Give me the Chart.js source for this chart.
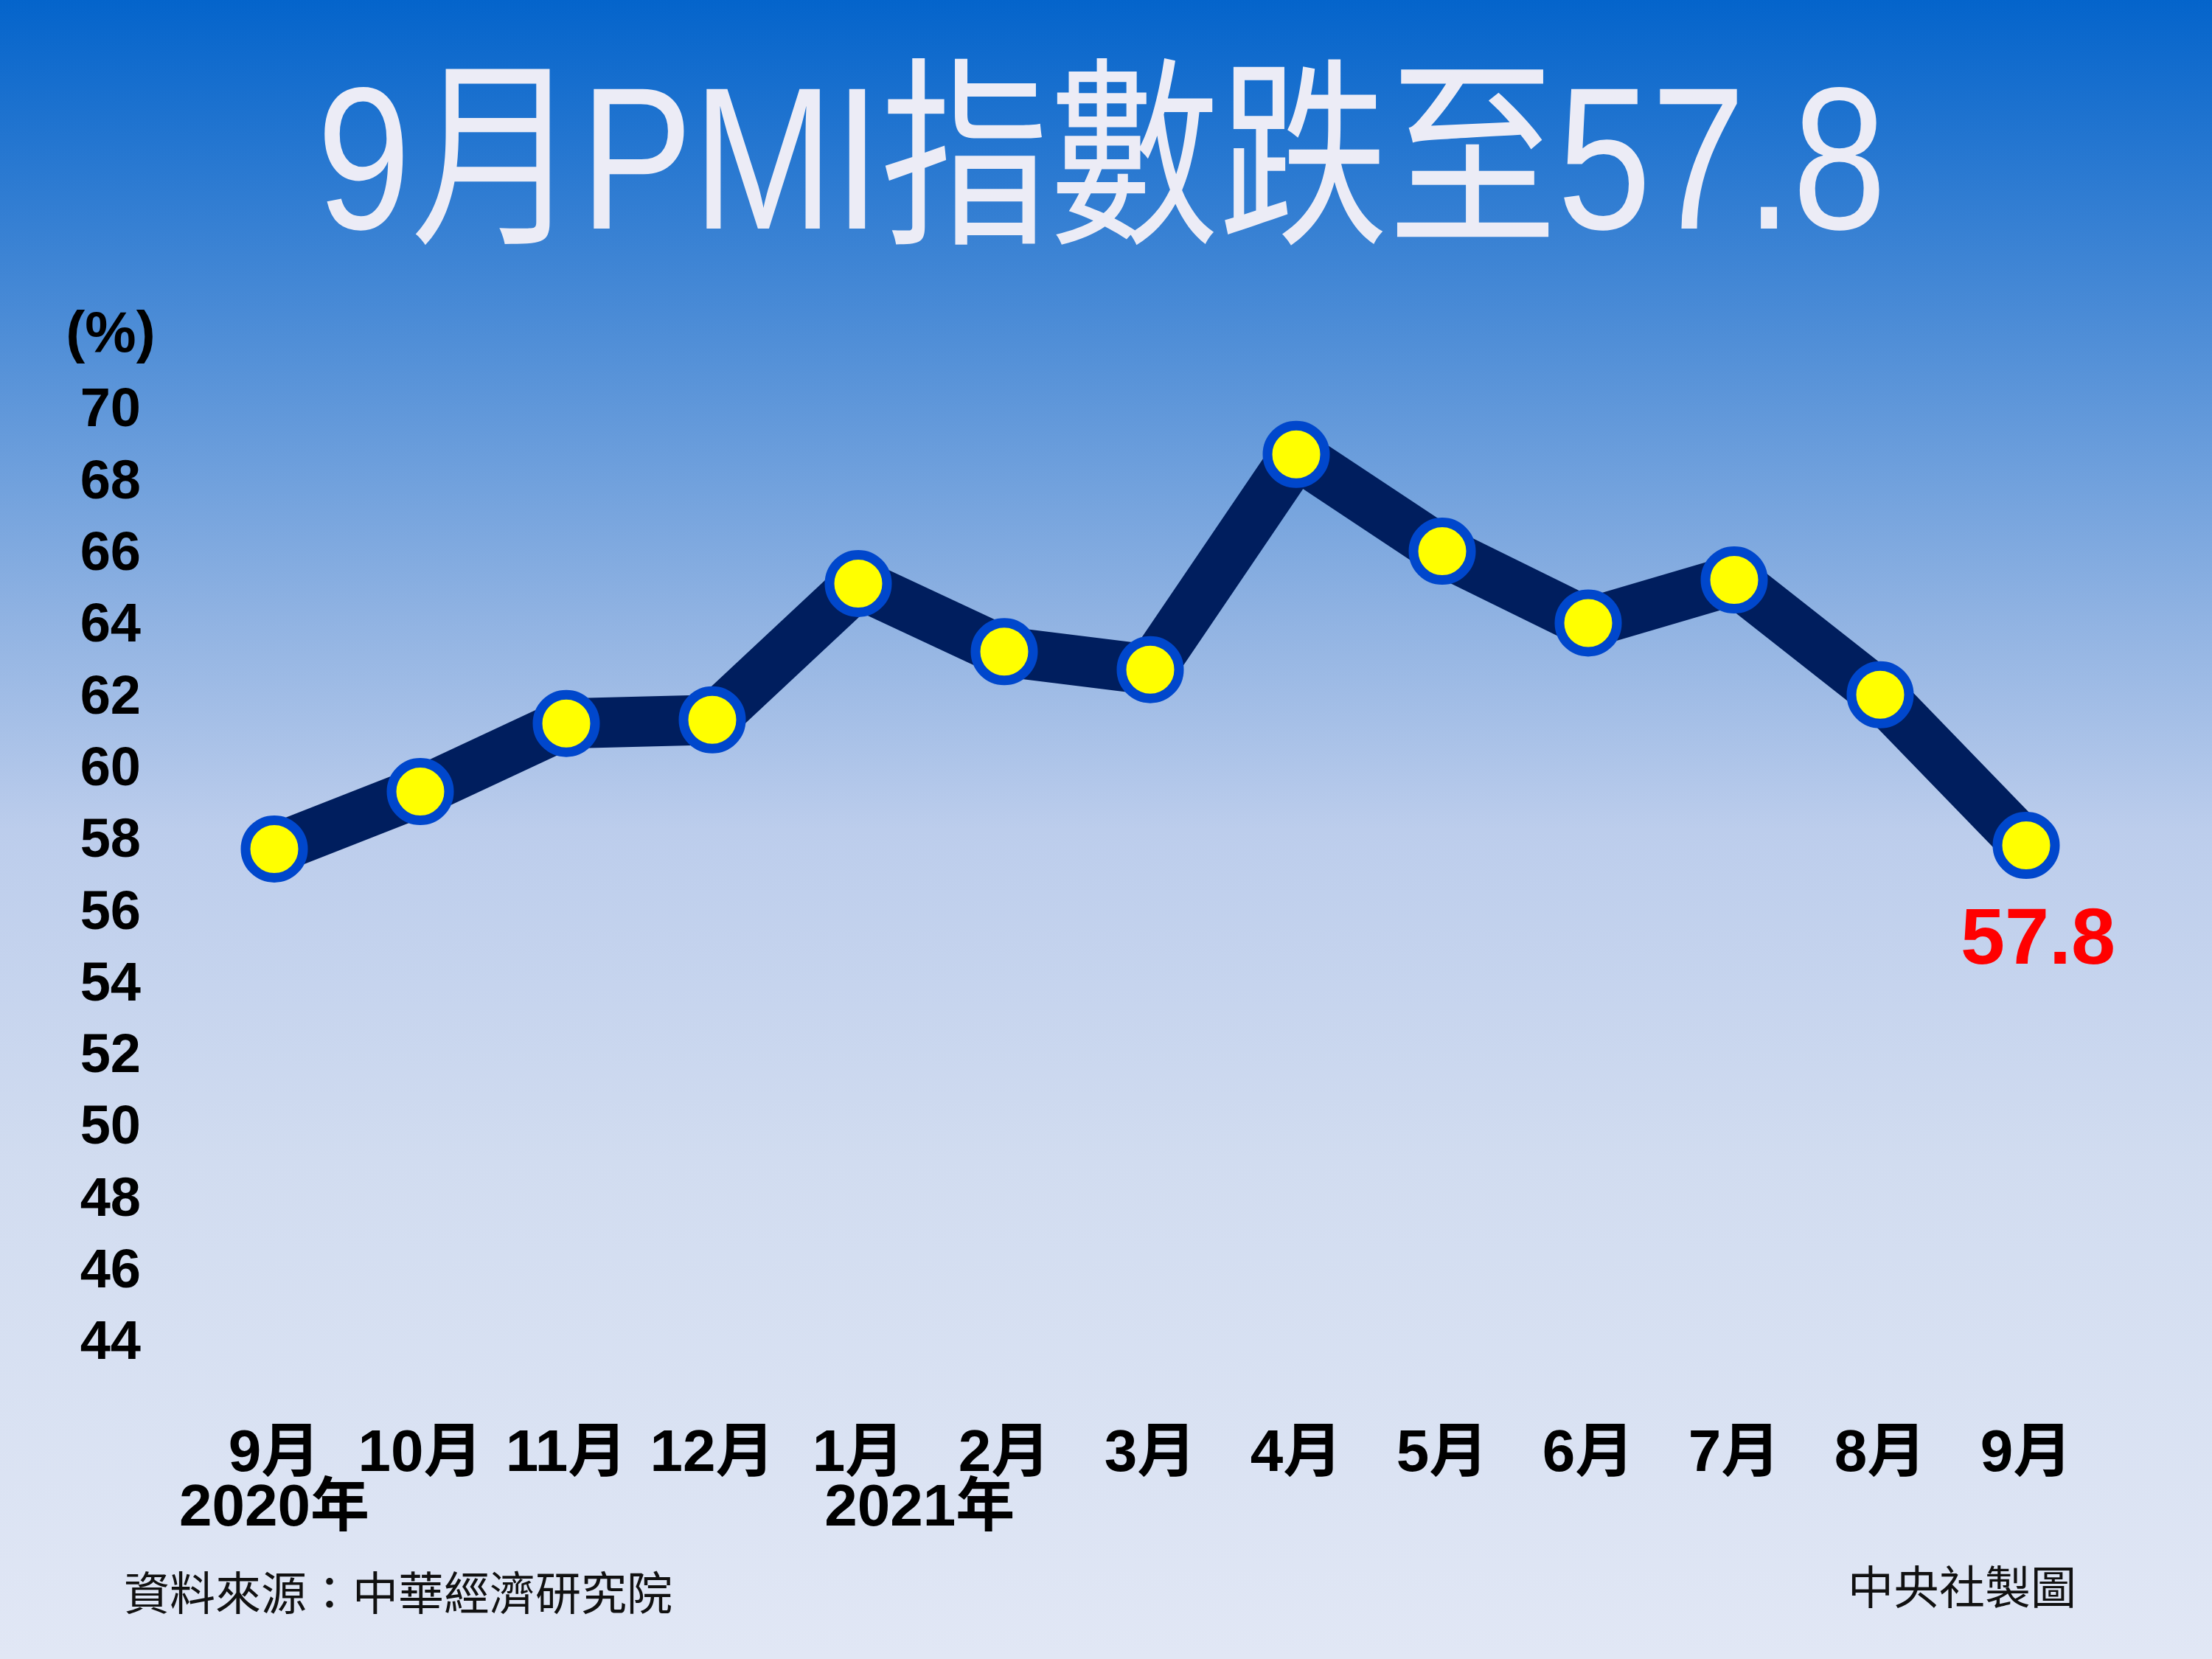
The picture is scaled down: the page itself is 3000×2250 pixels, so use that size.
<!DOCTYPE html>
<html>
<head>
<meta charset="utf-8">
<script src="https://cdn.jsdelivr.net/npm/chart.js@4/dist/chart.umd.min.js"></script>
<style>
  html, body { margin: 0; padding: 0; background: #e1e7f5; }
  #wrap { width: 3000px; height: 2250px; }
</style>
</head>
<body>
<div id="wrap"><canvas id="pmiChart" width="3000" height="2250"></canvas></div>
<script>
const titleText = "9月PMI指數跌至57.8";
const unitText = "(%)";
const months = ["9月", "10月", "11月", "12月", "1月", "2月", "3月", "4月", "5月", "6月", "7月", "8月", "9月"];
const pmiValues = [57.7, 59.3, 61.2, 61.3, 65.1, 63.2, 62.7, 68.7, 66.0, 64.0, 65.2, 62.0, 57.8];
const yearLabels = ["2020年", "2021年"];
const yearPositions = [0, 4.42];
const yTicks = [44, 46, 48, 50, 52, 54, 56, 58, 60, 62, 64, 66, 68, 70];
const sourceText = "資料來源：中華經濟研究院";
const creditText = "中央社製圖";

const FONT = "\"Liberation Sans\", Arial, \"Noto Sans CJK TC\", sans-serif";

// background gradient + all the loose text around the plot
const decorPlugin = {
  id: "decor",
  beforeDraw(chart) {
    const { ctx, width, height } = chart;
    const grad = ctx.createLinearGradient(0, 0, 0, height);
    grad.addColorStop(0, "#0464cb");
    grad.addColorStop(0.19, "#4a8bd6");
    grad.addColorStop(0.37, "#8fb2e2");
    grad.addColorStop(0.5, "#bccdec");
    grad.addColorStop(0.7, "#d1dcf0");
    grad.addColorStop(1, "#e1e7f5");
    ctx.save();
    ctx.fillStyle = grad;
    ctx.fillRect(0, 0, width, height);
    ctx.restore();
  },
  afterDraw(chart) {
    const { ctx, scales } = chart;
    ctx.save();

    // title, squeezed a little like the original
    ctx.font = "normal 275px " + FONT;
    ctx.fillStyle = "#ececf6";
    ctx.textAlign = "center";
    ctx.textBaseline = "alphabetic";
    const tw = ctx.measureText(titleText).width;
    ctx.save();
    ctx.translate(1494, 310);
    ctx.scale(2129 / tw, 1);
    ctx.fillText(titleText, 0, 0);
    ctx.restore();

    // unit above the y ticks
    ctx.fillStyle = "#000";
    ctx.font = "bold 78px " + FONT;
    ctx.textBaseline = "middle";
    ctx.fillText(unitText, 150, 455);

    // year labels under the month ticks
    ctx.font = "bold 80px " + FONT;
    yearLabels.forEach((label, i) => {
      ctx.fillText(label, scales.x.getPixelForValue(yearPositions[i]), 2047);
    });

    // latest value
    const meta = chart.getDatasetMeta(0);
    const last = meta.data[meta.data.length - 1];
    ctx.fillStyle = "#ff0000";
    ctx.font = "bold 108px " + FONT;
    ctx.fillText(pmiValues[pmiValues.length - 1].toFixed(1), last.x + 16, last.y + 131);

    // footer
    ctx.fillStyle = "#111";
    ctx.font = "normal 62px \"Noto Sans CJK TC\", sans-serif";
    ctx.textAlign = "left";
    ctx.fillText(sourceText, 168, 2160);
    ctx.textAlign = "right";
    ctx.fillText(creditText, 2816, 2152);

    ctx.restore();
  }
};

const context = document.getElementById("pmiChart").getContext("2d");
new Chart(context, {
  type: "line",
  data: {
    labels: months,
    datasets: [
      {
        label: "PMI",
        data: pmiValues,
        borderColor: "#001e5e",
        borderWidth: 68,
        borderJoinStyle: "bevel",
        tension: 0,
        pointRadius: 39,
        pointHoverRadius: 39,
        pointBorderWidth: 13,
        pointHoverBorderWidth: 13,
        pointBackgroundColor: "#ffff00",
        pointBorderColor: "#0047cc",
        clip: false
      }
    ]
  },
  options: {
    responsive: false,
    devicePixelRatio: 1,
    animation: false,
    events: [],
    layout: { padding: { top: 553, right: 252, left: 0, bottom: 0 } },
    plugins: {
      legend: { display: false },
      tooltip: { enabled: false }
    },
    scales: {
      x: {
        grid: { display: false, drawTicks: false },
        border: { display: false },
        ticks: {
          color: "#000",
          font: { family: FONT, size: 80, weight: "bold" },
          padding: 107,
          autoSkip: false,
          maxRotation: 0
        },
        afterFit: (scale) => { scale.height = 432; }
      },
      y: {
        min: 44,
        max: 70,
        grid: { display: false, drawTicks: false },
        border: { display: false },
        afterBuildTicks: (scale) => { scale.ticks = yTicks.map((v) => ({ value: v })); },
        ticks: {
          color: "#000",
          font: { family: FONT, size: 74, weight: "bold" },
          padding: 181,
          labelOffset: 5
        },
        afterFit: (scale) => { scale.width = 372; }
      }
    }
  },
  plugins: [decorPlugin]
});
</script>
</body>
</html>
